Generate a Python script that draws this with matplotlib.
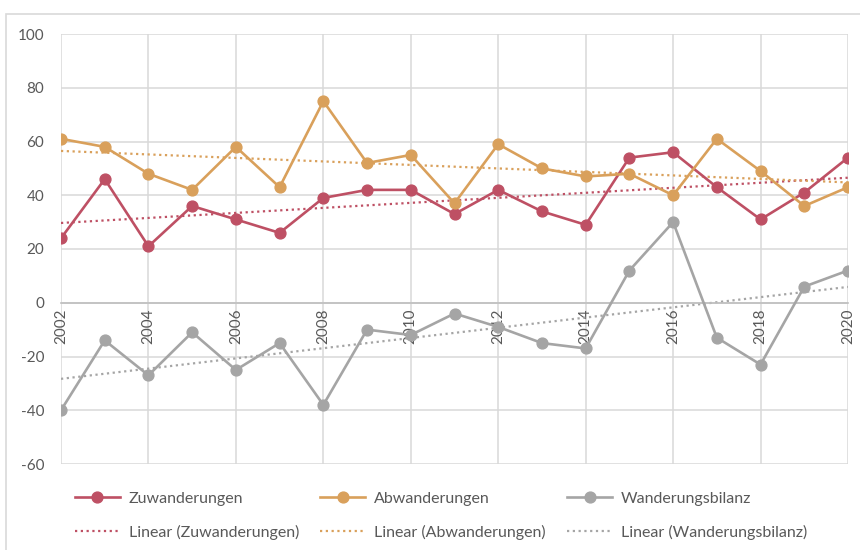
import numpy as np
import matplotlib.pyplot as plt
from matplotlib.patches import Rectangle

plt.rcParams['font.family'] = ['Lato', 'DejaVu Sans']
plt.rcParams['axes.unicode_minus'] = False

# Daten
jahre = list(range(2002, 2021))
zuwanderungen = [24, 46, 21, 36, 31, 26, 39, 42, 42, 33, 42, 34, 29, 54, 56, 43, 31, 41, 54]
abwanderungen = [61, 58, 48, 42, 58, 43, 75, 52, 55, 37, 59, 50, 47, 48, 40, 61, 49, 36, 43]
bilanz = [-40, -14, -27, -11, -25, -15, -38, -10, -12, -4, -9, -15, -17, 12, 30, -13, -23, 6, 12]

namen = ['Zuwanderungen', 'Abwanderungen', 'Wanderungsbilanz']
farben = ['#BE5064', '#D9A05B', '#A5A5A5']
reihen = [zuwanderungen, abwanderungen, bilanz]

fig = plt.figure(figsize=(8.6, 5.5), dpi=100)
ax = fig.add_axes([61 / 860, 1 - 464 / 550, 787 / 860, 430 / 550])

# Rahmen um das ganze Diagramm
fig.patches.append(Rectangle((6 / 860, -0.1), 1.2, 1 - 14 / 550 + 0.1,
                             transform=fig.transFigure, fill=False,
                             edgecolor='#D9D9D9', linewidth=1.2))

x = np.array(jahre)
linien = []
trends = []
for name, farbe, werte in zip(namen, farben, reihen):
    l, = ax.plot(x, werte, color=farbe, linewidth=1.9, marker='o',
                 markersize=7.8, label=name, zorder=3)
    m, b = np.polyfit(x, werte, 1)
    t, = ax.plot(x, m * x + b, color=farbe, linewidth=1.6,
                 linestyle=(0, (1, 1.6)), label=f'Linear ({name})', zorder=2)
    linien.append(l)
    trends.append(t)

ax.set_xlim(2002, 2020)
ax.set_ylim(-60, 100)
ax.set_yticks(range(-60, 101, 20))
ax.set_xticks(range(2002, 2021, 2))
ax.grid(True, color='#D9D9D9', linewidth=1.1)
ax.set_axisbelow(True)

for s in ['top', 'right', 'left']:
    ax.spines[s].set_visible(False)
ax.spines['bottom'].set_position(('data', 0))
ax.spines['bottom'].set_color('#BFBFBF')
ax.spines['bottom'].set_linewidth(1.2)

ax.tick_params(axis='both', length=0, labelsize=11, labelcolor='#595959')
ax.tick_params(axis='x', pad=4)
ax.tick_params(axis='y', pad=12)
for lab in ax.get_xticklabels():
    lab.set_rotation(90)

griffe = [linien[0], trends[0], linien[1], trends[1], linien[2], trends[2]]
leg = fig.legend(handles=griffe, loc='lower left', bbox_to_anchor=(75 / 860, 10 / 550),
                 ncol=3, frameon=False, fontsize=11.5, labelcolor='#595959',
                 columnspacing=1.35, handlelength=2.8, handletextpad=0.55,
                 labelspacing=1.2, borderpad=0, borderaxespad=0)

fig.savefig('out.png', dpi=100)
